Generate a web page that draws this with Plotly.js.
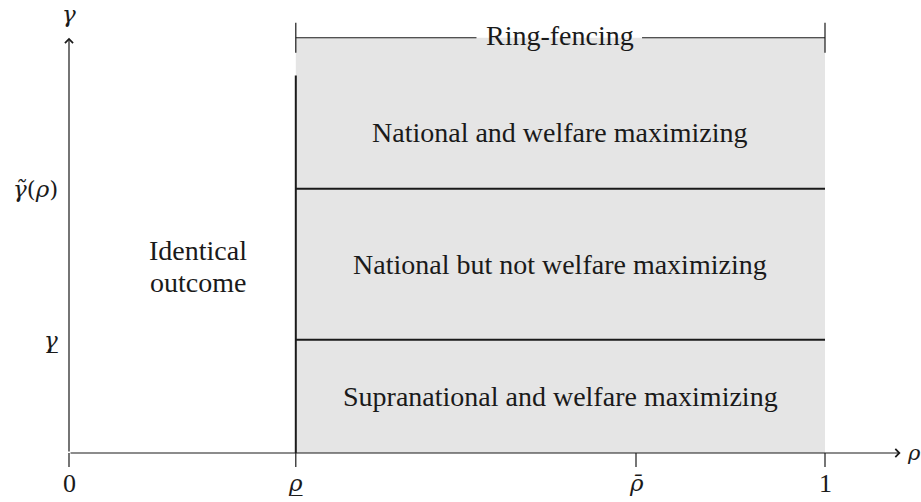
<!DOCTYPE html>
<html>
<head>
<meta charset="utf-8">
<script src="https://cdn.plot.ly/plotly-3.0.1.min.js"></script>
<style>html,body{margin:0;padding:0;background:#fff}</style>
</head>
<body>
<div id="chart" style="width:921px;height:502px"></div>
<script>
// ---- data ----
const xTickVals = [0, 0.3, 0.75, 1];
const xTickLabels = ['0', '<i>ρ̲</i>', '<i>ρ̄</i>', '1'];
const xTickIsMath = [false, true, true, false];
const yLevels = [3, 7];
const yLevelLabels = ['<i>γ̲</i>', '<i>γ̃</i>(<i>ρ</i>)'];
const ringStart = 0.3;
const ringEnd = 1;
const regionTop = 10;
const axisTopY = 11;
const axisEndX = 1.1;
const regionLabels = ['Supranational and welfare maximizing', 'National but not welfare maximizing', 'National and welfare maximizing'];
const regionBounds = [0, 3, 7, 10];
const leftLabelLines = ['Identical', 'outcome'];
const bracketLabel = 'Ring-fencing';
const xAxisLabel = '<i>ρ</i>';
const yAxisLabel = '<i>γ</i>';

// ---- style ----
const FONT = 'Liberation Serif';
const MFONT = 'DejaVu Serif';
const FS = 28;
const TFS = 26;
const MFS = 23;
const INK = '#1a1a1a';
const GRAY = '#e5e5e5';

const shapes = [];
const annotations = [];

shapes.push({type:'rect', xref:'x', yref:'y', x0:ringStart, x1:ringEnd, y0:0, y1:axisTopY,
  fillcolor:GRAY, line:{width:0}, layer:'below'});
shapes.push({type:'line', xref:'x', yref:'y', x0:ringStart, x1:ringStart, y0:0, y1:regionTop,
  line:{color:INK, width:2}});
yLevels.forEach(v => shapes.push({type:'line', xref:'x', yref:'y', x0:ringStart, x1:ringEnd, y0:v, y1:v,
  line:{color:INK, width:2}}));
xTickVals.forEach((v, i) => {
  shapes.push({type:'line', xref:'x', yref:'y', x0:v, x1:v, y0:0, y1:-0.37, line:{color:INK, width:1.2}});
  annotations.push({x:v, y:-0.8, xref:'x', yref:'y', text:xTickLabels[i], showarrow:false,
    font:xTickIsMath[i] ? {family:MFONT, size:MFS, color:INK} : {family:FONT, size:TFS, color:INK},
    xanchor:'center', yanchor:'middle'});
});
yLevels.forEach((v, i) => annotations.push({x:-0.012, y:v, xref:'x', yref:'y', text:yLevelLabels[i],
  showarrow:false, font:{family:MFONT, size:MFS, color:INK}, xanchor:'right', yanchor:'middle'}));
regionLabels.forEach((t, i) => annotations.push({x:(ringStart + ringEnd) / 2,
  y:(regionBounds[i] + regionBounds[i + 1]) / 2, xref:'x', yref:'y', text:t, showarrow:false,
  font:{family:FONT, size:FS, color:INK}, xanchor:'center', yanchor:'middle'}));
leftLabelLines.forEach((t, i) => annotations.push({x:0.17, y:5.37 - i * 0.85, xref:'x', yref:'y', text:t,
  showarrow:false, font:{family:FONT, size:FS, color:INK}, xanchor:'center', yanchor:'middle'}));
const mid = (ringStart + ringEnd) / 2;
shapes.push({type:'line', xref:'x', yref:'y', x0:ringStart, x1:mid - 0.111, y0:axisTopY, y1:axisTopY, line:{color:INK, width:1.2}});
shapes.push({type:'line', xref:'x', yref:'y', x0:mid + 0.108, x1:ringEnd, y0:axisTopY, y1:axisTopY, line:{color:INK, width:1.2}});
[ringStart, ringEnd].forEach(v => shapes.push({type:'line', xref:'x', yref:'y', x0:v, x1:v,
  y0:axisTopY - 0.4, y1:axisTopY + 0.4, line:{color:INK, width:1.2}}));
annotations.push({x:mid, y:axisTopY + 0.05, xref:'x', yref:'y', text:bracketLabel, showarrow:false,
  font:{family:FONT, size:FS, color:INK}, xanchor:'center', yanchor:'middle'});
annotations.push({x:axisEndX, y:0, ax:0, ay:0, xref:'x', yref:'y', axref:'x', ayref:'y', text:'',
  showarrow:true, arrowhead:4, arrowsize:1.3, arrowwidth:1.2, arrowcolor:INK});
annotations.push({x:0, y:axisTopY, ax:0, ay:0, xref:'x', yref:'y', axref:'x', ayref:'y', text:'',
  showarrow:true, arrowhead:4, arrowsize:1.3, arrowwidth:1.2, arrowcolor:INK});
annotations.push({x:1.106, y:0, xref:'x', yref:'y', text:xAxisLabel, showarrow:false,
  font:{family:MFONT, size:MFS - 2, color:INK}, xanchor:'left', yanchor:'middle'});
annotations.push({x:0, y:11.63, xref:'x', yref:'y', text:yAxisLabel, showarrow:false,
  font:{family:MFONT, size:MFS, color:INK}, xanchor:'center', yanchor:'middle'});

const layout = {
  width:921, height:502,
  margin:{l:0, r:0, t:0, b:0},
  paper_bgcolor:'#fff', plot_bgcolor:'#fff',
  font:{family:FONT, color:INK},
  showlegend:false,
  xaxis:{range:[-69/756, 852/756], visible:false, fixedrange:true},
  yaxis:{range:[-49/37.75, 453/37.75], visible:false, fixedrange:true},
  shapes, annotations
};
Plotly.newPlot('chart', [], layout, {staticPlot:true});
</script>
</body>
</html>
